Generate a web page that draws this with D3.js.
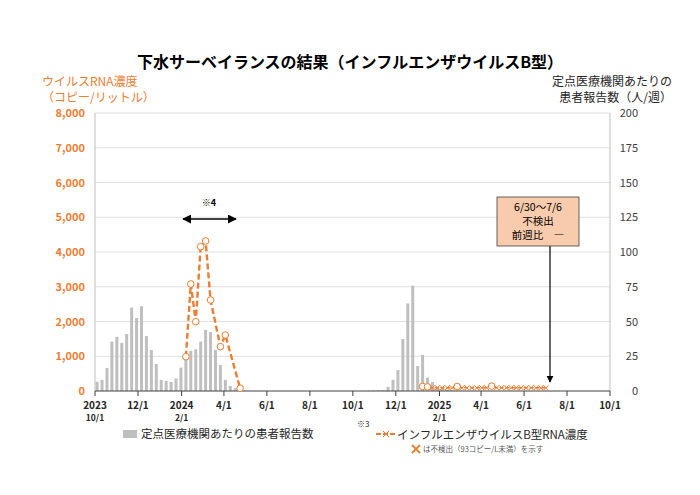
<!DOCTYPE html>
<html><head><meta charset="utf-8">
<script src="https://cdn.jsdelivr.net/npm/d3@7"></script>
<style>
body{margin:0;background:#fff;font-family:"Noto Sans CJK JP","Noto Sans",sans-serif;}
text{font-family:"Noto Sans CJK JP","Noto Sans",sans-serif;}
</style></head><body>
<svg id="c" width="700" height="495"></svg>
<script>
// weekly patient reports (per sentinel site), weeks starting 2023-10-04
const barStart = '2023-10-04';
const patients = [6.7,8,16.5,35.5,39,34.5,41,60,52.5,61,39.5,29.5,19.4,8,7.2,6.5,9,16.8,22.3,29,30,35.5,44,42.4,29.5,18.7,8,3.6,2,
  0.5,0.3,0,0,0,0,0,0,0,0,0,0,0,0,0,0,0,0,0,0,0,0,0,0,0,0,0.2,0.3,0.5,0.7,3,8,15,37.4,63,75.8,18,26,9.6,6.5,3,1.5,1,0.5,0.3,0.2,0.2,0.1,0.1,0,0,0,0,0,0,0,0,0,0,0,0,0,0];
// RNA concentration, season 2023/24
const rnaDates1 = ['2024-02-07','2024-02-14','2024-02-21','2024-02-28','2024-03-06','2024-03-13','2024-03-27','2024-04-03','2024-04-24'];
const rnaValues1 = [987,3079,1995,4153,4317,2619,1276,1611,80];
// season 2024/25: d = detected (circle), n = not detected (cross)
const rnaStart2 = '2025-01-08';
const rnaValues2 = [130,120,93,93,93,93,93,130,93,93,93,93,93,93,140,93,93,93,93,93,93,93,93,93,93,93];
const rnaFlags2  = ['d','d','n','n','n','n','n','d','n','n','n','n','n','n','d','n','n','n','n','n','n','n','n','n','n','n'];
const leftTicks = [0,1000,2000,3000,4000,5000,6000,7000,8000];
const rightTicks = [0,25,50,75,100,125,150,175,200];
const monthTicks = ['2023-10-01','2023-12-01','2024-02-01','2024-04-01','2024-06-01','2024-08-01','2024-10-01','2024-12-01','2025-02-01','2025-04-01','2025-06-01','2025-08-01','2025-10-01'];

const P = d3.timeParse('%Y-%m-%d');
const svg = d3.select('#c');
const L = 95, R = 610, T = 113, B = 391;
const x = d3.scaleTime().domain([P('2023-10-01'), P('2025-10-01')]).range([L, R]);
const yL = d3.scaleLinear().domain([0, 8000]).range([B, T]);
const yR = d3.scaleLinear().domain([0, 200]).range([B, T]);
const orange = '#ED7D31';

// grid
svg.append('g').selectAll('line').data(leftTicks.slice(1)).join('line')
  .attr('x1', L).attr('x2', R).attr('y1', d => yL(d)).attr('y2', d => yL(d))
  .attr('stroke', '#d9d9d9').attr('stroke-width', 0.8);
svg.append('line').attr('x1', L).attr('x2', L).attr('y1', T).attr('y2', B).attr('stroke', '#bfbfbf');
svg.append('line').attr('x1', R).attr('x2', R).attr('y1', T).attr('y2', B).attr('stroke', '#bfbfbf');

// axis labels
svg.append('g').selectAll('text').data(leftTicks).join('text')
  .attr('x', L - 10).attr('y', d => yL(d) + 4).attr('text-anchor', 'end')
  .attr('font-size', 11).attr('font-weight', 'bold').attr('fill', orange)
  .text(d => d3.format(',')(d));
svg.append('g').selectAll('text').data(rightTicks).join('text')
  .attr('x', R + 28).attr('y', d => yR(d) + 4).attr('text-anchor', 'end')
  .attr('font-size', 11).attr('fill', '#404040').text(d => d);

// bars
const t0 = P(barStart);
svg.append('g').selectAll('rect').data(patients).join('rect')
  .attr('x', (d, i) => x(d3.timeDay.offset(t0, i * 7)) - 1.5)
  .attr('width', 3)
  .attr('y', d => yR(d)).attr('height', d => B - yR(d))
  .attr('fill', '#bfbfbf');

// x axis
svg.append('line').attr('x1', L).attr('x2', R).attr('y1', B).attr('y2', B).attr('stroke', '#404040');
const isYear = d => (d.getMonth() === 1 && d.getFullYear() > 2023) || (d.getMonth() === 9 && d.getFullYear() === 2023);
const mt = svg.append('g').selectAll('g').data(monthTicks.map(P)).join('g')
  .attr('transform', d => `translate(${x(d)},${B})`);
mt.append('line').attr('y2', 5).attr('stroke', '#404040');
mt.append('text').attr('y', 18).attr('text-anchor', 'middle').attr('font-size', 10).attr('font-weight', 'bold')
  .attr('fill', '#262626')
  .text(d => isYear(d) ? d.getFullYear() : (d.getMonth() + 1) + '/1');
mt.filter(isYear)
  .append('text').attr('y', 30).attr('text-anchor', 'middle').attr('font-size', 8.5).attr('font-weight', 'bold')
  .attr('fill', '#262626').text(d => (d.getMonth() + 1) + '/1');

// RNA line 1
const pts1 = rnaDates1.map((d, i) => ({ t: P(d), v: rnaValues1[i] }));
const line = d3.line().x(d => x(d.t)).y(d => yL(d.v));
svg.append('path').datum(pts1).attr('d', line).attr('fill', 'none')
  .attr('stroke', orange).attr('stroke-width', 2.4).attr('stroke-dasharray', '6,3');
svg.append('g').selectAll('circle').data(pts1).join('circle')
  .attr('cx', d => x(d.t)).attr('cy', d => yL(d.v)).attr('r', 3.3)
  .attr('fill', '#fff').attr('stroke', orange).attr('stroke-width', 1);

// RNA line 2
const t2 = P(rnaStart2);
const pts2 = rnaValues2.map((v, i) => ({ t: d3.timeDay.offset(t2, i * 7), v, f: rnaFlags2[i] }));
svg.append('path').datum(pts2).attr('d', line).attr('fill', 'none')
  .attr('stroke', orange).attr('stroke-width', 1.5).attr('stroke-dasharray', '4,2');
svg.append('g').selectAll('circle').data(pts2.filter(d => d.f === 'd')).join('circle')
  .attr('cx', d => x(d.t)).attr('cy', d => yL(d.v)).attr('r', 3.3)
  .attr('fill', '#fff').attr('stroke', orange).attr('stroke-width', 1);
svg.append('g').selectAll('path').data(pts2.filter(d => d.f === 'n')).join('path')
  .attr('d', d => { const cx = x(d.t), cy = yL(d.v); return `M${cx-2.5},${cy-2.5}L${cx+2.5},${cy+2.5}M${cx-2.5},${cy+2.5}L${cx+2.5},${cy-2.5}`; })
  .attr('stroke', orange).attr('stroke-width', 1);

// title and axis titles
svg.append('text').attr('x', 350).attr('y', 68).attr('text-anchor', 'middle').attr('font-size', 16).attr('font-weight', 'bold')
  .attr('fill', '#000').text('下水サーベイランスの結果（インフルエンザウイルスB型）');
svg.append('text').attr('x', 42).attr('y', 86).attr('font-size', 12).attr('fill', orange).text('ウイルスRNA濃度');
svg.append('text').attr('x', 42).attr('y', 102).attr('font-size', 12).attr('fill', orange).text('（コピー/リットル）');
svg.append('text').attr('x', 672).attr('y', 86).attr('text-anchor', 'end').attr('font-size', 12).attr('fill', '#262626').text('定点医療機関あたりの');
svg.append('text').attr('x', 672).attr('y', 102).attr('text-anchor', 'end').attr('font-size', 12).attr('fill', '#262626').text('患者報告数（人/週）');

// ※4 arrow
const defs = svg.append('defs');
defs.append('marker').attr('id', 'ah').attr('viewBox', '0 0 10 10').attr('refX', 9).attr('refY', 5)
  .attr('markerWidth', 6).attr('markerHeight', 6).attr('orient', 'auto-start-reverse')
  .append('path').attr('d', 'M0,0L10,5L0,10z').attr('fill', '#000');
svg.append('line').attr('x1', 183).attr('x2', 236).attr('y1', 219).attr('y2', 219)
  .attr('stroke', '#000').attr('stroke-width', 1.5).attr('marker-start', 'url(#ah)').attr('marker-end', 'url(#ah)');
svg.append('text').attr('x', 209).attr('y', 206).attr('text-anchor', 'middle').attr('font-size', 9).attr('font-weight', 'bold').text('※4');

// annotation box
svg.append('line').attr('x1', 550).attr('x2', 550).attr('y1', 246).attr('y2', 382)
  .attr('stroke', '#000').attr('stroke-width', 1.2).attr('marker-end', 'url(#ah)');
svg.append('rect').attr('x', 497).attr('y', 197).attr('width', 82).attr('height', 49)
  .attr('fill', '#F8CBAD').attr('stroke', '#404040').attr('stroke-width', 0.8);
['6/30～7/6', '不検出', '前週比　―'].forEach((s, i) =>
  svg.append('text').attr('x', 538).attr('y', 211 + i * 14).attr('text-anchor', 'middle').attr('font-size', 10.5).attr('fill', '#000').text(s));

// legend
svg.append('rect').attr('x', 123).attr('y', 430).attr('width', 14).attr('height', 8).attr('fill', '#bfbfbf');
svg.append('text').attr('x', 141).attr('y', 438).attr('font-size', 11.5).attr('fill', '#262626').text('定点医療機関あたりの患者報告数');
svg.append('text').attr('x', 357).attr('y', 427).attr('font-size', 8).attr('fill', '#262626').text('※3');
svg.append('line').attr('x1', 376).attr('x2', 396).attr('y1', 434).attr('y2', 434).attr('stroke', orange).attr('stroke-width', 2).attr('stroke-dasharray', '5,2');
svg.append('path').attr('d', 'M383,431L389,437M383,437L389,431').attr('stroke', orange).attr('stroke-width', 1);
svg.append('text').attr('x', 397).attr('y', 439).attr('font-size', 11.5).attr('fill', '#262626').text('インフルエンザウイルスB型RNA濃度');
svg.append('path').attr('d', 'M412,445L420,453M412,453L420,445').attr('stroke', orange).attr('stroke-width', 1.8);
svg.append('text').attr('x', 423).attr('y', 452).attr('font-size', 7.5).attr('fill', '#595959').text('は不検出（93コピー/L未満）を示す');
</script>
</body></html>
